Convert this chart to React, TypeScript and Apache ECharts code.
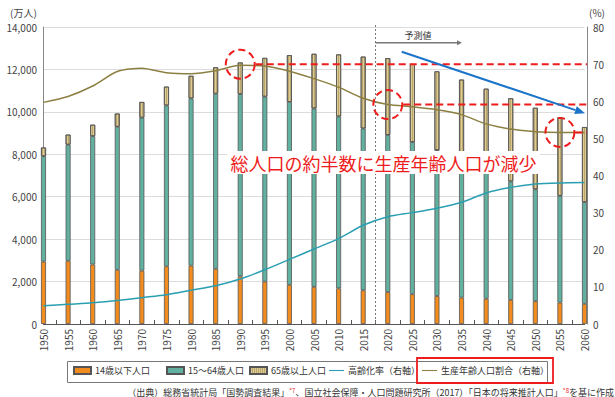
import React, { useEffect, useRef } from "react";
import * as echarts from "echarts";

const years = ["1950","1955","1960","1965","1970","1975","1980","1985","1990","1995","2000","2005","2010","2015","2020","2025","2030","2035","2040","2045","2050","2055","2060"];
const under14 = [2943,2980,2807,2553,2515,2722,2751,2603,2249,2001,1847,1752,1680,1589,1507,1407,1321,1246,1194,1138,1077,1012,951];
const age15to64 = [4966,5473,6047,6744,7212,7581,7883,8251,8590,8716,8622,8409,8103,7629,7406,7170,6875,6494,5978,5584,5275,5028,4793];
const over65 = [411,475,540,624,739,887,1065,1247,1489,1826,2204,2576,2925,3387,3619,3677,3716,3782,3921,3919,3841,3704,3540];
const agingRate = [4.9,5.3,5.7,6.3,7.1,7.9,9.1,10.3,12.1,14.6,17.4,20.2,23.0,26.6,28.9,30.0,31.2,32.8,35.3,36.8,37.7,38.0,38.1];
const workingRatio = [59.7,61.3,64.1,68.0,68.9,67.7,67.4,68.2,69.7,69.5,68.1,66.1,63.8,60.8,59.1,58.5,57.7,56.4,53.9,52.5,51.8,51.6,51.6];
const leftTicks = { min: 0, max: 14000, interval: 2000 };
const rightTicks = { min: 0, max: 80, interval: 10 };
const seriesNames = ["14歳以下人口", "15～64歳人口", "65歳以上人口", "高齢化率（右軸）", "生産年齢人口割合（右軸）"];

const FONT = "'Noto Sans CJK JP', 'Noto Sans', sans-serif";
const ORANGE = "#F28C1E";
const TEAL = "#62B1A0";
const BEIGE = "#DCCB94";
const CYAN = "#2A9FB2";
const OLIVE = "#8C7F42";
const RED = "#EE1C1C";
const BLUE = "#1C74C8";

function arrowHead(x1: number, y1: number, x2: number, y2: number, len: number, w: number) {
  const dx = x2 - x1, dy = y2 - y1;
  const L = Math.sqrt(dx * dx + dy * dy);
  const ux = dx / L, uy = dy / L;
  const bx = x2 - ux * len, by = y2 - uy * len;
  const nx = -uy, ny = ux;
  return { base: [bx, by], pts: [[x2, y2], [bx + nx * w, by + ny * w], [bx - nx * w, by - ny * w]] };
}

export default function App() {
  const ref = useRef<HTMLDivElement>(null);
  useEffect(() => {
    document.body.style.margin = "0";
    const chart = echarts.init(ref.current!, null, { renderer: "svg" });
    const lineIcon = "path://M0,4.2 L22,4.2 L22,5.8 L0,5.8 Z";
    const legendLefts = [73, 166, 249, 329, 422];
    const legends = seriesNames.map((name, i) => ({
      left: legendLefts[i], top: 366, padding: 0,
      itemWidth: i < 3 ? 17 : 15, itemHeight: i < 3 ? 7 : 6,
      itemGap: 0,
      textStyle: { fontSize: 9, color: "#333", fontFamily: FONT, padding: [0, 0, 0, -1] },
      data: [{ name, icon: i < 3 ? "rect" : lineIcon }],
    }));
    chart.setOption({
      animation: false,
      textStyle: { fontFamily: FONT },
      grid: { left: 43.5, right: 30.5, top: 27, bottom: 73 },
      legend: legends,
      xAxis: [
        {
          type: "category", data: years, boundaryGap: false,
          axisLine: { lineStyle: { color: "#555", width: 1 } },
          axisTick: { show: false },
          axisLabel: { rotate: 90, fontSize: 10, color: "#444", margin: 5, fontFamily: FONT },
          splitLine: { show: false },
        },
        {
          type: "value", min: 0, max: years.length - 1, interval: 1, position: "bottom",
          axisLine: { show: false }, axisLabel: { show: false },
          axisTick: { show: false, inside: true },
          minorTick: { show: true, splitNumber: 2, length: 4, lineStyle: { color: "#555" } },
          splitLine: { show: false },
        },
      ],
      yAxis: [
        {
          type: "value", ...leftTicks, offset: 2.5,
          axisLine: { show: true, lineStyle: { color: "#888" } },
          axisTick: { show: false },
          axisLabel: { fontSize: 10, color: "#444", margin: 4, fontFamily: FONT,
            formatter: (v: number) => v.toLocaleString("en-US") },
          splitLine: { lineStyle: { color: "#dcdcdc", width: 1.2 } },
        },
        {
          type: "value", ...rightTicks, position: "right", offset: 2.5,
          axisLine: { show: true, lineStyle: { color: "#888" } },
          axisTick: { show: false },
          axisLabel: { fontSize: 10, color: "#444", margin: 6, fontFamily: FONT },
          splitLine: { show: false },
        },
      ],
      series: [
        { name: seriesNames[0], type: "bar", stack: "pop", barWidth: 5, data: under14,
          itemStyle: { color: ORANGE, borderColor: "#555", borderWidth: 0.8 } },
        { name: seriesNames[1], type: "bar", stack: "pop", barWidth: 5, data: age15to64,
          itemStyle: { color: TEAL, borderColor: "#555", borderWidth: 0.8 } },
        { name: seriesNames[2], type: "bar", stack: "pop", barWidth: 5, data: over65,
          itemStyle: { color: BEIGE, borderColor: "#555", borderWidth: 0.8,
            decal: { symbol: "rect", symbolSize: 1, color: "rgba(140,115,50,0.42)", dashArrayX: [1, 1], dashArrayY: [4, 0], rotation: 0 } } },
        { name: seriesNames[3], type: "line", yAxisIndex: 1, data: agingRate, smooth: 0.25,
          showSymbol: false, symbol: "none", lineStyle: { color: CYAN, width: 1.5 }, itemStyle: { color: CYAN }, z: 5 },
        { name: seriesNames[4], type: "line", yAxisIndex: 1, data: workingRatio, smooth: 0.25,
          showSymbol: false, symbol: "none", lineStyle: { color: OLIVE, width: 1.5 }, itemStyle: { color: OLIVE }, z: 5 },
      ],
    });

    const px = (cat: string, v: number) => chart.convertToPixel({ xAxisIndex: 0, yAxisIndex: 1 }, [cat, v]) as number[];
    const c1 = px("1990", workingRatio[8]);
    const c2 = px("2020", workingRatio[14]);
    const c3 = px("2055", workingRatio[21]);
    const y70 = px("1990", 70)[1];
    const x2015 = px("2015", 0)[0];
    const x2020 = px("2020", 0)[0];
    const xDiv = (x2015 + x2020) / 2;
    const yBottom = px("2015", 0)[1];
    const rightEdge = px("2060", 0)[0] + 2.5;
    const r = 14.5;
    const dashRed = { stroke: RED, lineWidth: 2, lineDash: [7, 4], fill: null };

    const grayArrow = arrowHead(xDiv, 42.7, 462, 42.7, 5, 2.5);
    const blueArrow = arrowHead(401.7, 51.7, 585, 113.3, 10, 4);

    chart.setOption({
      graphic: [
        { type: "text", left: 10, top: 7, z: 100, style: { text: "(万人)", fontSize: 10, fill: "#444", fontFamily: FONT } },
        { type: "text", left: 589, top: 7, z: 100, style: { text: "(%)", fontSize: 10, fill: "#444", fontFamily: FONT } },
        { type: "line", z: 100, shape: { x1: xDiv, y1: 25, x2: xDiv, y2: yBottom },
          style: { stroke: "#777", lineWidth: 1, lineDash: [2, 2] } },
        { type: "line", z: 100, shape: { x1: xDiv, y1: 42.7, x2: grayArrow.base[0], y2: 42.7 },
          style: { stroke: "#777", lineWidth: 1.5 } },
        { type: "polygon", z: 100, shape: { points: grayArrow.pts }, style: { fill: "#777" } },
        { type: "text", z: 100, x: 418, y: 35, style: { text: "予測値", fontSize: 9, fill: "#333", align: "center", verticalAlign: "middle", fontFamily: FONT } },
        { type: "circle", z: 100, shape: { cx: c1[0], cy: c1[1] - 1, r }, style: dashRed },
        { type: "circle", z: 100, shape: { cx: c2[0], cy: c2[1], r }, style: dashRed },
        { type: "circle", z: 100, shape: { cx: c3[0], cy: c3[1], r }, style: dashRed },
        { type: "line", z: 100, shape: { x1: c1[0] + r + 1, y1: y70, x2: rightEdge, y2: y70 }, style: dashRed },
        { type: "line", z: 100, shape: { x1: c2[0] + r + 1, y1: c2[1], x2: rightEdge, y2: c2[1] }, style: dashRed },
        { type: "line", z: 100, shape: { x1: c3[0] + r + 1, y1: c3[1], x2: rightEdge, y2: c3[1] }, style: dashRed },
        { type: "line", z: 101, shape: { x1: 401.7, y1: 51.7, x2: blueArrow.base[0], y2: blueArrow.base[1] },
          style: { stroke: BLUE, lineWidth: 2 } },
        { type: "polygon", z: 101, shape: { points: blueArrow.pts }, style: { fill: BLUE } },
        { type: "rect", z: 100, shape: { x: 227, y: 151, width: 313, height: 23 }, style: { fill: "#fff" } },
        { type: "text", z: 101, x: 383.5, y: 163, style: { text: "総人口の約半数に生産年齢人口が減少", fontSize: 18, fill: RED,
          align: "center", verticalAlign: "middle", fontFamily: FONT } },
        { type: "rect", z: 99, shape: { x: 67.5, y: 361.5, width: 480, height: 21 }, style: { fill: null, stroke: "#777", lineWidth: 1 } },
        { type: "rect", z: 100, shape: { x: 417, y: 358, width: 136, height: 25 }, style: { fill: null, stroke: RED, lineWidth: 1.8 } },
        { type: "text", z: 100, x: 614, y: 392, style: {
          text: "（出典）総務省統計局「国勢調査結果」{s|*7}、国立社会保障・人口問題研究所（2017）「日本の将来推計人口」{s|*8}を基に作成",
          fontSize: 9, fill: "#333", align: "right", verticalAlign: "middle", fontFamily: FONT,
          rich: { s: { fontSize: 6, fill: RED, verticalAlign: "top", fontFamily: FONT } } } },
      ],
    });
    return () => chart.dispose();
  }, []);
  return <div ref={ref} style={{ position: "absolute", left: 0, top: 0, width: 615, height: 397 }} />;
}
